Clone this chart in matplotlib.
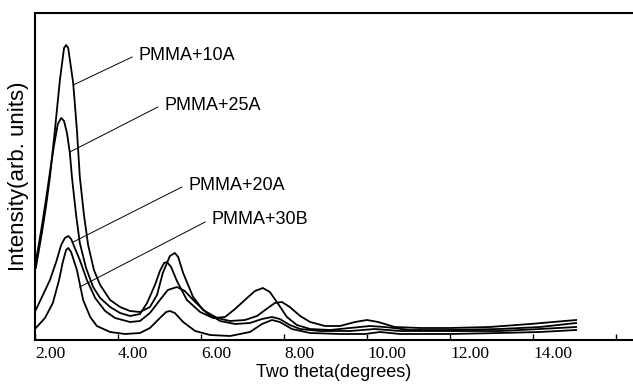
import matplotlib
matplotlib.use("Agg")
import matplotlib.pyplot as plt

# two theta (deg) / intensity (arb.)
x_10a = [2.02, 2.17, 2.27, 2.36, 2.48, 2.60, 2.70, 2.75, 2.80, 2.92, 3.01, 3.08, 3.18, 3.28, 3.42,
         3.57, 3.81, 4.05, 4.29, 4.53, 4.77, 4.94, 5.08, 5.25, 5.37, 5.45, 5.57, 5.81, 6.05, 6.39,
         6.70, 7.06, 7.35, 7.61, 7.78, 7.95, 8.14, 8.39, 8.63, 8.99, 9.35, 9.71, 10.0, 10.27, 10.67,
         11.28, 12.0, 12.96, 13.93, 15.04]
y_10a = [72, 108, 135, 163, 210, 260, 292, 295, 292, 257, 210, 163, 125, 95, 70,
         55, 40, 33, 29, 28, 33, 45, 67, 84, 87, 83, 67, 43, 30, 22,
         19, 20, 24, 32, 37, 38, 33, 24, 18, 14, 14, 18, 20, 18, 13,
         12, 12, 13, 16, 20]

x_25a = [2.02, 2.17, 2.27, 2.36, 2.46, 2.55, 2.63, 2.70, 2.77, 2.84, 2.89, 2.99, 3.08, 3.23, 3.40,
         3.57, 3.81, 4.05, 4.29, 4.53, 4.70, 4.89, 5.01, 5.11, 5.18, 5.28, 5.42, 5.66, 5.98, 6.29,
         6.58, 6.82, 7.11, 7.30, 7.49, 7.66, 7.86, 8.07, 8.31, 8.63, 9.11, 9.59, 10.07, 10.43, 11.04,
         12.0, 13.20, 14.17, 15.04]
y_25a = [78, 115, 142, 168, 195, 216, 222, 219, 207, 187, 163, 125, 97, 72, 53,
         42, 33, 27, 24, 26, 37, 55, 69, 77, 78, 73, 59, 40, 28, 22,
         23, 31, 42, 49, 52, 48, 36, 23, 15, 11, 10, 12, 14, 13, 10,
         10, 11, 13, 17]

x_20a = [2.02, 2.19, 2.36, 2.51, 2.63, 2.72, 2.80, 2.87, 2.96, 3.08, 3.25, 3.45, 3.69, 3.93, 4.29,
         4.53, 4.77, 5.01, 5.20, 5.42, 5.61, 5.86, 6.14, 6.46, 6.82, 7.18, 7.47, 7.71, 7.90, 8.14,
         8.39, 8.87, 9.59, 10.19, 10.80, 12.0, 13.20, 14.17, 15.04]
y_20a = [30, 45, 60, 78, 95, 102, 104, 101, 92, 80, 60, 42, 29, 22, 18,
         19, 27, 40, 50, 53, 49, 38, 27, 19, 16, 17, 21, 23, 21, 15,
         11, 9, 9, 11, 9, 9, 9, 11, 13]

x_30b = [2.02, 2.24, 2.43, 2.58, 2.67, 2.75, 2.80, 2.87, 3.01, 3.16, 3.33, 3.49, 3.81, 4.17, 4.53,
         4.77, 5.01, 5.16, 5.25, 5.37, 5.57, 5.86, 6.22, 6.70, 7.18, 7.47, 7.71, 7.90, 8.19, 8.63,
         9.35, 9.95, 10.31, 10.80, 12.0, 13.20, 14.17, 15.04]
y_30b = [12, 22, 37, 60, 78, 90, 92, 88, 70, 40, 23, 14, 8, 6, 7,
         12, 22, 28, 29, 27, 18, 9, 5, 4, 8, 16, 20, 18, 11, 7,
         6, 6, 8, 6, 6, 7, 8, 10]

labels = ["PMMA+10A", "PMMA+25A", "PMMA+20A", "PMMA+30B"]
# leader line: (point on curve) -> (text anchor)
leader_from = [(2.92, 255), (2.84, 188), (2.92, 98), (3.08, 53)]
leader_to = [(4.34, 283), (4.96, 233), (5.54, 153), (6.10, 118)]

xticks = [2, 4, 6, 8, 10, 12, 14, 16]
xticklabels = ["2.00", "4.00", "6.00", "8.00", "10.00", "12.00", "14.00", ""]

fig = plt.figure(figsize=(6.33, 3.92), dpi=100)
ax = fig.add_axes([35 / 633, 52 / 392, 598 / 633, 327 / 392])

for xs, ys in [(x_10a, y_10a), (x_25a, y_25a), (x_20a, y_20a), (x_30b, y_30b)]:
    ax.plot(xs, ys, color="black", lw=1.3)

for lab, p0, p1 in zip(labels, leader_from, leader_to):
    ax.plot([p0[0], p1[0]], [p0[1], p1[1]], color="black", lw=0.7)
    ax.text(p1[0] + 0.15, p1[1] + 2, lab, ha="left", va="center",
            family="Liberation Sans", fontsize=13)

ax.set_xlim(2, 16.41)
ax.set_ylim(0, 327)
ax.set_yticks([])
ax.set_xticks(xticks)
ax.set_xticklabels(xticklabels, ha="left", family="Liberation Serif", fontsize=12.5)
ax.tick_params(axis="x", direction="in", length=4, width=1, pad=4)

ax.spines["right"].set_visible(False)
for s in ["left", "top", "bottom"]:
    ax.spines[s].set_linewidth(1.5)

ax.set_xlabel("Two theta(degrees)", family="Liberation Sans", fontsize=13, labelpad=2)
ax.set_ylabel("Intensity(arb. units)", family="Liberation Sans", fontsize=16, labelpad=4)

fig.savefig("out.png", dpi=100)
